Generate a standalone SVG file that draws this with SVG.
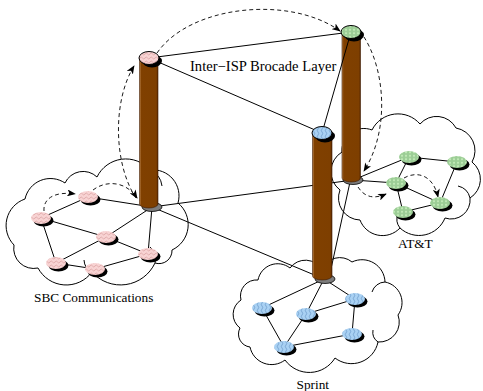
<svg xmlns="http://www.w3.org/2000/svg" width="483" height="391" viewBox="0 0 483 391">
  <style>
    .cloud { fill: #fff; stroke: #000; stroke-width: 1; }
    .edge { stroke: #000; stroke-width: 1; fill: none; }
    .dash { stroke: #000; stroke-width: 0.9; fill: none; stroke-dasharray: 4 3; marker-end: url(#ah); }
    .shadow { fill: #000; }
    .pink { fill: url(#pinkWave); }
    .blue { fill: url(#blueWave); }
    .green { fill: url(#greenHex); }
    .topnode { stroke: #000; stroke-width: 1; }
    .pillar { fill: url(#wood); stroke: #3a1800; stroke-width: 0.6; }
    .base { fill: #7d7d7d; stroke: #000; stroke-width: 0.8; }
    .label { font-family: "Liberation Serif", "Times New Roman", serif; font-size: 13.3px; fill: #000; }
  </style>
  <defs>
    <marker id="ah" viewBox="0 0 10 8" refX="9" refY="4" markerWidth="9" markerHeight="7" markerUnits="userSpaceOnUse" orient="auto">
      <path d="M0,0 L10,4 L0,8 L2.5,4 z" fill="#000"/>
    </marker>
    <pattern id="pinkWave" width="5" height="4" patternUnits="userSpaceOnUse">
      <rect width="5" height="4" fill="#f8d3d3"/>
      <path d="M0,2 L1.25,1 L2.5,2 L3.75,3 L5,2" stroke="#c98585" stroke-width="0.5" fill="none"/>
    </pattern>
    <pattern id="blueWave" width="4" height="6" patternUnits="userSpaceOnUse">
      <rect width="4" height="6" fill="#a9d1f3"/>
      <path d="M2,0 Q3.5,1.5 2,3 Q0.5,4.5 2,6" stroke="#4f7fb3" stroke-width="0.5" fill="none"/>
    </pattern>
    <pattern id="greenHex" width="4" height="3.5" patternUnits="userSpaceOnUse">
      <rect width="4" height="3.5" fill="#bfe8b5"/>
      <path d="M0,1.75 L1,0 L3,0 L4,1.75 L3,3.5 L1,3.5 Z" stroke="#5e9e5e" stroke-width="0.45" fill="none"/>
    </pattern>
    <linearGradient id="wood" x1="0" y1="0" x2="1" y2="0">
      <stop offset="0" stop-color="#c8925c"/>
      <stop offset="0.09" stop-color="#804000"/>
      <stop offset="0.9" stop-color="#7e3f00"/>
      <stop offset="1" stop-color="#5c2a00"/>
    </linearGradient>
  </defs>

  <!-- clouds -->
  <g id="cloud-sbc">
    <path class="cloud" d="M14,245 A28,28 0 0 1 25,199 A26,26 0 0 1 65,183 A20,20 0 0 1 97,177 A32,32 0 0 1 150,170 A26,26 0 0 1 178,203 A28,28 0 0 1 172,250 A13,13 0 0 1 155,263 A38,38 0 0 1 92,272 A32,32 0 0 1 38,268 A20,20 0 0 1 14,245 Z"/>
    <path class="edge" d="M150,170 A20,20 0 0 1 162,186"/>
    <path class="edge" d="M155,263 A16,16 0 0 0 150,247"/>
    <path class="edge" d="M92,272 A14,14 0 0 1 84,260"/>
  </g>
  <g id="cloud-att">
    <path class="cloud" d="M340,190 A23,23 0 0 1 342,152 A22,22 0 0 1 372,130 A29,29 0 0 1 420,124 A22,22 0 0 1 456,128 A23,23 0 0 1 472,162 A22,22 0 0 1 470,198 A19,19 0 0 1 445,218 A28,28 0 0 1 400,228 A24,24 0 0 1 360,220 A22,22 0 0 1 340,190 Z"/>
    <path class="edge" d="M470,198 A16,16 0 0 0 458,186"/>
    <path class="edge" d="M400,228 A14,14 0 0 1 398,214"/>
  </g>
  <g id="cloud-sprint">
    <path class="cloud" d="M240,328 A17,17 0 0 1 241,300 A16,16 0 0 1 258,280 A20,20 0 0 1 290,268 A19,19 0 0 1 322,270 A19,19 0 0 1 352,262 A23,23 0 0 1 385,282 A21,21 0 0 1 398,315 A20,20 0 0 1 378,342 A27,27 0 0 1 335,358 A30,30 0 0 1 285,360 A22,22 0 0 1 250,347 A13,13 0 0 1 240,328 Z"/>
    <path class="edge" d="M385,282 A14,14 0 0 0 372,292"/>
    <path class="edge" d="M378,342 A12,12 0 0 1 373,330"/>
  </g>

  <!-- connectors -->
  <g id="connectors">
    <!-- SBC Communications -->
    <line class="edge" x1="88" y1="197" x2="41" y2="218"/>
    <line class="edge" x1="88" y1="197" x2="152" y2="207"/>
    <line class="edge" x1="41" y1="218" x2="106" y2="237"/>
    <line class="edge" x1="41" y1="218" x2="56" y2="263"/>
    <line class="edge" x1="106" y1="237" x2="152" y2="207"/>
    <line class="edge" x1="106" y1="237" x2="56" y2="263"/>
    <line class="edge" x1="106" y1="237" x2="148" y2="254"/>
    <line class="edge" x1="148" y1="254" x2="152" y2="207"/>
    <line class="edge" x1="56" y1="263" x2="95" y2="269"/>
    <line class="edge" x1="95" y1="269" x2="148" y2="254"/>
    <!-- AT&T -->
    <line class="edge" x1="409" y1="157" x2="457" y2="162"/>
    <line class="edge" x1="409" y1="157" x2="396" y2="183"/>
    <line class="edge" x1="409" y1="157" x2="353" y2="180"/>
    <line class="edge" x1="457" y1="162" x2="440" y2="203"/>
    <line class="edge" x1="396" y1="183" x2="353" y2="180"/>
    <line class="edge" x1="396" y1="183" x2="440" y2="203"/>
    <line class="edge" x1="396" y1="183" x2="403" y2="212"/>
    <line class="edge" x1="403" y1="212" x2="440" y2="203"/>
    <!-- Sprint -->
    <line class="edge" x1="262" y1="308" x2="324" y2="279"/>
    <line class="edge" x1="306" y1="314" x2="324" y2="279"/>
    <line class="edge" x1="355" y1="299" x2="324" y2="279"/>
    <line class="edge" x1="262" y1="308" x2="284" y2="347"/>
    <line class="edge" x1="306" y1="314" x2="284" y2="347"/>
    <line class="edge" x1="306" y1="314" x2="355" y2="299"/>
    <line class="edge" x1="355" y1="299" x2="352" y2="334"/>
    <line class="edge" x1="284" y1="347" x2="352" y2="334"/>
    <!-- links between the lower ends of the pillars -->
    <line class="edge" x1="152" y1="207" x2="353" y2="180"/>
    <line class="edge" x1="152" y1="207" x2="324" y2="279"/>
    <line class="edge" x1="350" y1="182" x2="329" y2="278"/>
    <!-- dashed route -->
    <path class="dash" d="M44,211 C43,199 54,191 75,194"/>
    <path class="dash" d="M93,190 C106,180 126,181 137,198"/>
    <path class="dash" d="M136,198 C114,165 112,102 134,66"/>
    <path class="dash" d="M157,53 C190,5 290,-5 340,31"/>
    <path class="dash" d="M364,37 C385,70 390,130 364,171"/>
    <path class="dash" d="M358,187 C365,198 375,199 386,194"/>
    <path class="dash" d="M404,178 C416,171 433,174 438,197"/>
  </g>

  <!-- pillars of the inter-ISP layer -->
  <g id="pillar-sbc">
    <ellipse class="base" cx="152" cy="207" rx="10" ry="4.5"/>
    <path class="pillar" d="M139.5,58 L139.5,204 A9.25,4 0 0 0 158,204 L158,58 Z"/>
  </g>
  <g id="pillar-sprint">
    <ellipse class="base" cx="325" cy="279" rx="10" ry="4.5"/>
    <path class="pillar" d="M312.5,133 L312.5,276 A9.75,4 0 0 0 332,276 L332,133 Z"/>
  </g>
  <g id="pillar-att">
    <ellipse class="base" cx="353" cy="180" rx="10" ry="4.5"/>
    <path class="pillar" d="M342,32 L342,178 A9.25,4 0 0 0 360.5,178 L360.5,32 Z"/>
  </g>

  <!-- links across the top of the layer -->
  <g id="top-links">
    <line class="edge" x1="149" y1="58" x2="351" y2="32"/>
    <line class="edge" x1="149" y1="58" x2="322" y2="133"/>
    <line class="edge" x1="351" y1="32" x2="322" y2="133"/>
  </g>

  <!-- SBC Communications nodes -->
  <g id="sbc-top"><ellipse class="shadow" cx="152" cy="61" rx="10" ry="6.5"/><ellipse class="pink topnode" cx="149" cy="58" rx="10" ry="6.5"/></g>
  <g id="sbc-a"><ellipse class="shadow" cx="90.5" cy="199.5" rx="10" ry="6"/><ellipse class="pink" cx="88" cy="197" rx="10" ry="6"/></g>
  <g id="sbc-b"><ellipse class="shadow" cx="43.5" cy="220.5" rx="10" ry="6"/><ellipse class="pink" cx="41" cy="218" rx="10" ry="6"/></g>
  <g id="sbc-c"><ellipse class="shadow" cx="108.5" cy="239.5" rx="10" ry="6"/><ellipse class="pink" cx="106" cy="237" rx="10" ry="6"/></g>
  <g id="sbc-d"><ellipse class="shadow" cx="150.5" cy="256.5" rx="10" ry="6"/><ellipse class="pink" cx="148" cy="254" rx="10" ry="6"/></g>
  <g id="sbc-e"><ellipse class="shadow" cx="58.5" cy="265.5" rx="10" ry="6"/><ellipse class="pink" cx="56" cy="263" rx="10" ry="6"/></g>
  <g id="sbc-f"><ellipse class="shadow" cx="97.5" cy="271.5" rx="10" ry="6"/><ellipse class="pink" cx="95" cy="269" rx="10" ry="6"/></g>

  <!-- AT&T nodes -->
  <g id="att-top"><ellipse class="shadow" cx="354" cy="35" rx="10" ry="6.5"/><ellipse class="green topnode" cx="351" cy="32" rx="10" ry="6.5"/></g>
  <g id="att-g"><ellipse class="shadow" cx="411.5" cy="159.5" rx="10" ry="6"/><ellipse class="green" cx="409" cy="157" rx="10" ry="6"/></g>
  <g id="att-h"><ellipse class="shadow" cx="459.5" cy="164.5" rx="10" ry="6"/><ellipse class="green" cx="457" cy="162" rx="10" ry="6"/></g>
  <g id="att-i"><ellipse class="shadow" cx="398.5" cy="185.5" rx="10" ry="6"/><ellipse class="green" cx="396" cy="183" rx="10" ry="6"/></g>
  <g id="att-j"><ellipse class="shadow" cx="442.5" cy="205.5" rx="10" ry="6"/><ellipse class="green" cx="440" cy="203" rx="10" ry="6"/></g>
  <g id="att-k"><ellipse class="shadow" cx="405.5" cy="214.5" rx="10" ry="6"/><ellipse class="green" cx="403" cy="212" rx="10" ry="6"/></g>

  <!-- Sprint nodes -->
  <g id="sprint-top"><ellipse class="shadow" cx="325" cy="136" rx="10" ry="6.5"/><ellipse class="blue topnode" cx="322" cy="133" rx="10" ry="6.5"/></g>
  <g id="sprint-l"><ellipse class="shadow" cx="264.5" cy="310.5" rx="10" ry="6"/><ellipse class="blue" cx="262" cy="308" rx="10" ry="6"/></g>
  <g id="sprint-m"><ellipse class="shadow" cx="308.5" cy="316.5" rx="10" ry="6"/><ellipse class="blue" cx="306" cy="314" rx="10" ry="6"/></g>
  <g id="sprint-n"><ellipse class="shadow" cx="357.5" cy="301.5" rx="10" ry="6"/><ellipse class="blue" cx="355" cy="299" rx="10" ry="6"/></g>
  <g id="sprint-o"><ellipse class="shadow" cx="354.5" cy="336.5" rx="10" ry="6"/><ellipse class="blue" cx="352" cy="334" rx="10" ry="6"/></g>
  <g id="sprint-p"><ellipse class="shadow" cx="286.5" cy="349.5" rx="10" ry="6"/><ellipse class="blue" cx="284" cy="347" rx="10" ry="6"/></g>

  <!-- labels -->
  <text class="label" x="190" y="70.5" style="font-size:14.6px">Inter−ISP Brocade Layer</text>
  <text class="label" x="34" y="301.5">SBC Communications</text>
  <text class="label" x="296.5" y="388.5">Sprint</text>
  <text class="label" x="398" y="248">AT&amp;T</text>
</svg>
